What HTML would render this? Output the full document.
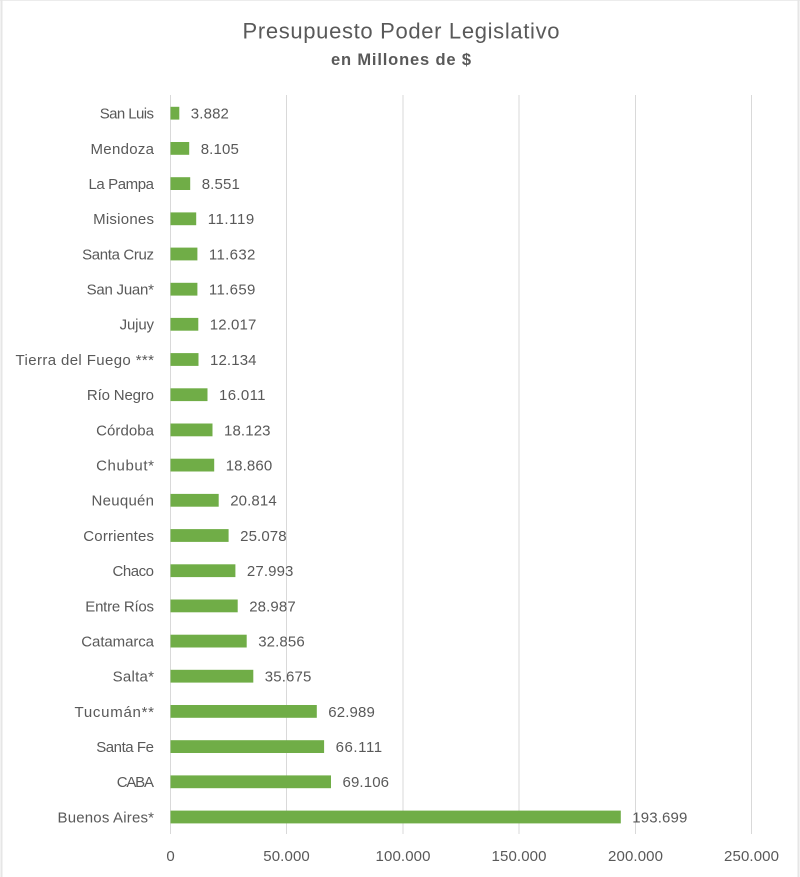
<!DOCTYPE html>
<html><head><meta charset="utf-8"><style>
html,body{margin:0;padding:0;background:#fff;}
svg{display:block;}
text{font-family:"Liberation Sans",sans-serif;fill:#595959;}
</style></head><body>
<svg width="800" height="877" viewBox="0 0 800 877" xmlns="http://www.w3.org/2000/svg">
<rect x="0" y="0" width="800" height="877" fill="#fff"/>
<line x1="0" y1="0.5" x2="800" y2="0.5" stroke="#ececec" stroke-width="1"/>
<line x1="1.5" y1="0" x2="1.5" y2="877" stroke="#e6e6e6" stroke-width="2"/>
<line x1="798.5" y1="0" x2="798.5" y2="877" stroke="#e6e6e6" stroke-width="2"/>

<text x="401" y="38.5" font-size="22" text-anchor="middle" textLength="317" lengthAdjust="spacing">Presupuesto Poder Legislativo</text>
<text x="401" y="65" font-size="16.5" font-weight="bold" text-anchor="middle" textLength="140" lengthAdjust="spacing">en Millones de $</text>

<g stroke="#d9d9d9" stroke-width="1">
<line x1="170.5" y1="95" x2="170.5" y2="834"/>
<line x1="286.5" y1="95" x2="286.5" y2="834"/>
<line x1="403" y1="95" x2="403" y2="834"/>
<line x1="519" y1="95" x2="519" y2="834"/>
<line x1="635.5" y1="95" x2="635.5" y2="834"/>
<line x1="751.5" y1="95" x2="751.5" y2="834"/>
</g>

<g fill="#70ad47">
<rect x="170.5" y="106.8" width="8.8" height="12.8"/>
<rect x="170.5" y="142.0" width="18.7" height="12.8"/>
<rect x="170.5" y="177.2" width="19.7" height="12.8"/>
<rect x="170.5" y="212.4" width="25.7" height="12.8"/>
<rect x="170.5" y="247.6" width="26.9" height="12.8"/>
<rect x="170.5" y="282.8" width="26.9" height="12.8"/>
<rect x="170.5" y="317.9" width="27.8" height="12.8"/>
<rect x="170.5" y="353.1" width="28.0" height="12.8"/>
<rect x="170.5" y="388.3" width="37.0" height="12.8"/>
<rect x="170.5" y="423.5" width="42.0" height="12.8"/>
<rect x="170.5" y="458.7" width="43.7" height="12.8"/>
<rect x="170.5" y="493.9" width="48.2" height="12.8"/>
<rect x="170.5" y="529.1" width="58.1" height="12.8"/>
<rect x="170.5" y="564.3" width="64.9" height="12.8"/>
<rect x="170.5" y="599.5" width="67.2" height="12.8"/>
<rect x="170.5" y="634.7" width="76.2" height="12.8"/>
<rect x="170.5" y="669.8" width="82.8" height="12.8"/>
<rect x="170.5" y="705.0" width="146.3" height="12.8"/>
<rect x="170.5" y="740.2" width="153.6" height="12.8"/>
<rect x="170.5" y="775.4" width="160.5" height="12.8"/>
<rect x="170.5" y="810.6" width="450.3" height="12.8"/>
</g>

<g font-size="15" text-anchor="end">
<text x="154" y="118.6" textLength="54.3" lengthAdjust="spacing">San Luis</text>
<text x="154" y="153.8" textLength="63.5" lengthAdjust="spacing">Mendoza</text>
<text x="154" y="189.0" textLength="65.5" lengthAdjust="spacing">La Pampa</text>
<text x="154" y="224.2" textLength="60.9" lengthAdjust="spacing">Misiones</text>
<text x="154" y="259.4" textLength="71.9" lengthAdjust="spacing">Santa Cruz</text>
<text x="154" y="294.6" textLength="67.4" lengthAdjust="spacing">San Juan*</text>
<text x="154" y="329.7" textLength="34.4" lengthAdjust="spacing">Jujuy</text>
<text x="154" y="364.9" textLength="138.5" lengthAdjust="spacing">Tierra del Fuego ***</text>
<text x="154" y="400.1" textLength="67.1" lengthAdjust="spacing">Río Negro</text>
<text x="154" y="435.3" textLength="57.9" lengthAdjust="spacing">Córdoba</text>
<text x="154" y="470.5" textLength="57.9" lengthAdjust="spacing">Chubut*</text>
<text x="154" y="505.7" textLength="62.5" lengthAdjust="spacing">Neuquén</text>
<text x="154" y="540.9" textLength="70.7" lengthAdjust="spacing">Corrientes</text>
<text x="154" y="576.1" textLength="41.5" lengthAdjust="spacing">Chaco</text>
<text x="154" y="611.3" textLength="68.7" lengthAdjust="spacing">Entre Ríos</text>
<text x="154" y="646.5" textLength="72.7" lengthAdjust="spacing">Catamarca</text>
<text x="154" y="681.6" textLength="41.4" lengthAdjust="spacing">Salta*</text>
<text x="154" y="716.8" textLength="79.5" lengthAdjust="spacing">Tucumán**</text>
<text x="154" y="752.0" textLength="57.8" lengthAdjust="spacing">Santa Fe</text>
<text x="154" y="787.2" textLength="37.3" lengthAdjust="spacing">CABA</text>
<text x="154" y="822.4" textLength="96.5" lengthAdjust="spacing">Buenos Aires*</text>
</g>

<g font-size="15">
<text x="190.8" y="118.6" textLength="38.1" lengthAdjust="spacing">3.882</text>
<text x="200.7" y="153.8" textLength="38.1" lengthAdjust="spacing">8.105</text>
<text x="201.7" y="189.0" textLength="38.1" lengthAdjust="spacing">8.551</text>
<text x="207.7" y="224.2" textLength="46.5" lengthAdjust="spacing">11.119</text>
<text x="208.9" y="259.4" textLength="46.5" lengthAdjust="spacing">11.632</text>
<text x="208.9" y="294.6" textLength="46.5" lengthAdjust="spacing">11.659</text>
<text x="209.8" y="329.7" textLength="46.5" lengthAdjust="spacing">12.017</text>
<text x="210.0" y="364.9" textLength="46.5" lengthAdjust="spacing">12.134</text>
<text x="219.0" y="400.1" textLength="46.5" lengthAdjust="spacing">16.011</text>
<text x="224.0" y="435.3" textLength="46.5" lengthAdjust="spacing">18.123</text>
<text x="225.7" y="470.5" textLength="46.5" lengthAdjust="spacing">18.860</text>
<text x="230.2" y="505.7" textLength="46.5" lengthAdjust="spacing">20.814</text>
<text x="240.1" y="540.9" textLength="46.5" lengthAdjust="spacing">25.078</text>
<text x="246.9" y="576.1" textLength="46.5" lengthAdjust="spacing">27.993</text>
<text x="249.2" y="611.3" textLength="46.5" lengthAdjust="spacing">28.987</text>
<text x="258.2" y="646.5" textLength="46.5" lengthAdjust="spacing">32.856</text>
<text x="264.8" y="681.6" textLength="46.5" lengthAdjust="spacing">35.675</text>
<text x="328.3" y="716.8" textLength="46.5" lengthAdjust="spacing">62.989</text>
<text x="335.6" y="752.0" textLength="46.5" lengthAdjust="spacing">66.111</text>
<text x="342.5" y="787.2" textLength="46.5" lengthAdjust="spacing">69.106</text>
<text x="632.3" y="822.4" textLength="55" lengthAdjust="spacing">193.699</text>
</g>

<g font-size="15" text-anchor="middle">
<text x="170.5" y="861">0</text>
<text x="286.5" y="861" textLength="46.5" lengthAdjust="spacing">50.000</text>
<text x="403" y="861" textLength="55" lengthAdjust="spacing">100.000</text>
<text x="519" y="861" textLength="55" lengthAdjust="spacing">150.000</text>
<text x="635.5" y="861" textLength="55" lengthAdjust="spacing">200.000</text>
<text x="751.5" y="861" textLength="55" lengthAdjust="spacing">250.000</text>
</g>
</svg>
</body></html>
